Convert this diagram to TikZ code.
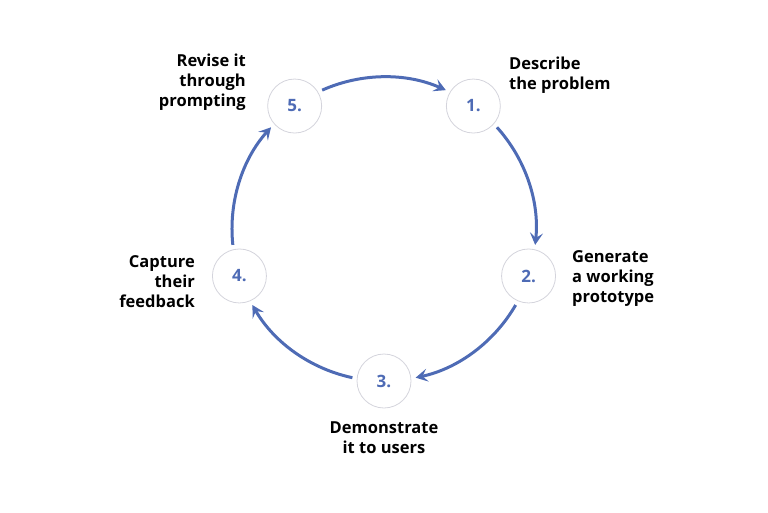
\documentclass[tikz,border=0pt]{standalone}
\usepackage{fontspec}
\setmainfont{Open Sans}
\usetikzlibrary{arrows.meta,calc}
\definecolor{cblue}{HTML}{4E6BB5}
\definecolor{cgray}{HTML}{D4D4DC}
\begin{document}
\begin{tikzpicture}[x=1pt,y=-1pt,
  stepnode/.style={circle,draw=cgray,line width=0.8pt,fill=white,minimum size=54pt,inner sep=0pt,text=cblue,font=\fontsize{17}{20}\selectfont\bfseries},
  lbl/.style={font=\fontsize{16.5}{20}\selectfont\bfseries,text=black,inner sep=0pt},
  ring/.style={draw=cblue,line width=3pt,-{Stealth[length=12pt,width=13pt,inset=5pt]}}]
\useasboundingbox (0,0) rectangle (768,512);
\coordinate (c) at (384,229);
\node[stepnode] (n1) at ($(c)+(-54:152)$) {1.};
\node[stepnode] (n2) at ($(c)+(18:152)$) {2.};
\node[stepnode] (n3) at ($(c)+(90:152)$) {3.};
\node[stepnode] (n4) at ($(c)+(162:152)$) {4.};
\node[stepnode] (n5) at ($(c)+(234:152)$) {5.};
\draw[ring] ($(c)+(-114:152)$) arc[start angle=-114,end angle=-66,radius=152];
\draw[ring] ($(c)+(-42:152)$) arc[start angle=-42,end angle=6,radius=152];
\draw[ring] ($(c)+(30:152)$) arc[start angle=30,end angle=78,radius=152];
\draw[ring] ($(c)+(102:152)$) arc[start angle=102,end angle=150,radius=152];
\draw[ring] ($(c)+(174:152)$) arc[start angle=174,end angle=222,radius=152];
\node[lbl,anchor=north west,align=left] (t1) at (509,57) {Describe\\the problem};
\node[lbl,anchor=north west,align=left] (t2) at (572,250) {Generate\\a working\\prototype};
\node[lbl,anchor=north,align=center] (t3) at (384,422) {Demonstrate\\it to users};
\node[lbl,anchor=north east,align=right] (t4) at (195,255) {Capture\\their\\feedback};
\node[lbl,anchor=north east,align=right] (t5) at (246,54) {Revise it\\through\\prompting};
\end{tikzpicture}
\end{document}
